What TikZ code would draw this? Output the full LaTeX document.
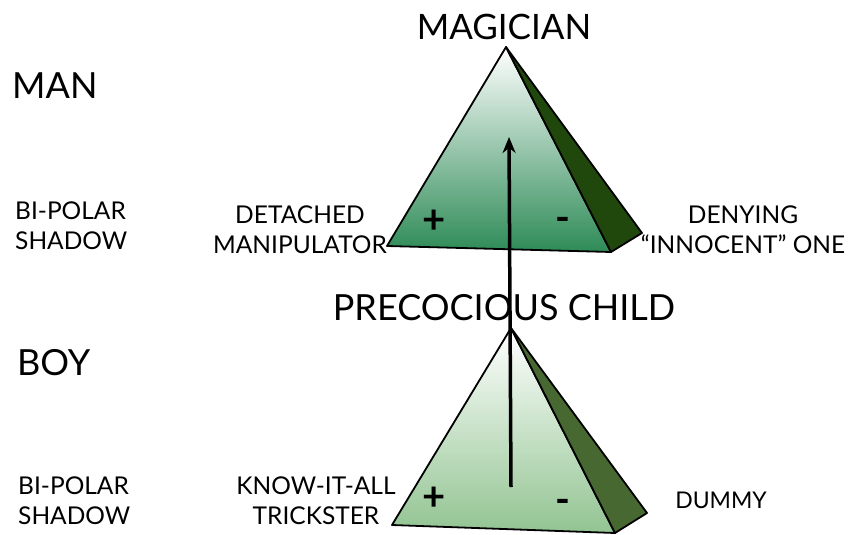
\documentclass[tikz,border=0pt]{standalone}
\usepackage{fontspec}
\setmainfont{Lato}
\usetikzlibrary{arrows.meta}
\definecolor{topgreen}{RGB}{46,139,87}
\definecolor{topside}{RGB}{33,72,12}
\definecolor{lowgreen}{RGB}{146,196,146}
\definecolor{lowside}{RGB}{72,104,50}

\begin{document}
\begin{tikzpicture}[x=1pt,y=-1pt,
            lbl/.style={inner sep=0pt, align=center, font=\fontsize{24.5}{30}\selectfont},
            head/.style={inner sep=0pt, font=\fontsize{36}{40}\selectfont},
            sign/.style={inner sep=0pt, font=\fontsize{40}{40}\selectfont\bfseries},
            face/.style={draw=black, line width=1.8pt, line join=round}
        ]
    \useasboundingbox (0,0) rectangle (851,535);

    % man pyramid
    \coordinate (mtop)   at (506,47);
    \coordinate (mleft)  at (387,246);
    \coordinate (mright) at (611,252);
    \coordinate (mback)  at (642,233);
    \shadedraw[face, top color=white, bottom color=topgreen] (mtop) -- (mleft) -- (mright) -- cycle;
    \filldraw[face, fill=topside] (mtop) -- (mright) -- (mback) -- cycle;

    % boy pyramid
    \coordinate (btop)   at (511,328);
    \coordinate (bleft)  at (392,525);
    \coordinate (bright) at (615,533);
    \coordinate (bback)  at (647,513);
    \shadedraw[face, top color=white, bottom color=lowgreen] (btop) -- (bleft) -- (bright) -- cycle;
    \filldraw[face, fill=lowside] (btop) -- (bright) -- (bback) -- cycle;

    \node[sign] (mplus)  at (434,222) {+};
    \node[sign] (mminus) at (563,224) {-};
    \node[sign] (bplus)  at (434,499) {+};
    \node[sign] (bminus) at (563,506) {-};

    \node[head, font=\fontsize{35}{40}\selectfont] (magician) at (504,27) {MAGICIAN};
    \node[head] (child) at (504,308) {PRECOCIOUS CHILD};
    \node[head, anchor=west] (man) at (12,86) {MAN};
    \node[head, anchor=west] (boy) at (17,363) {BOY};

    \node[lbl, anchor=west, align=left] (manshadow) at (15,226) {BI-POLAR\\SHADOW};
    \node[lbl] (detached) at (300,230) {DETACHED\\MANIPULATOR};
    \node[lbl] (denying)  at (743,230) {DENYING\\“INNOCENT” ONE};

    \node[lbl, anchor=west, align=left] (boyshadow) at (18,501) {BI-POLAR\\SHADOW};
    \node[lbl] (knowall) at (316,501) {KNOW-IT-ALL\\TRICKSTER};
    \node[lbl, font=\fontsize{23}{30}\selectfont] (dummy) at (721,500) {DUMMY};

    \coordinate (core) at (511,487);
    \coordinate (peak) at (509,137);
    \draw[line width=3.5pt, -{Stealth[length=16pt,width=13pt]}] (core) -- (peak);

\end{tikzpicture}
\end{document}
